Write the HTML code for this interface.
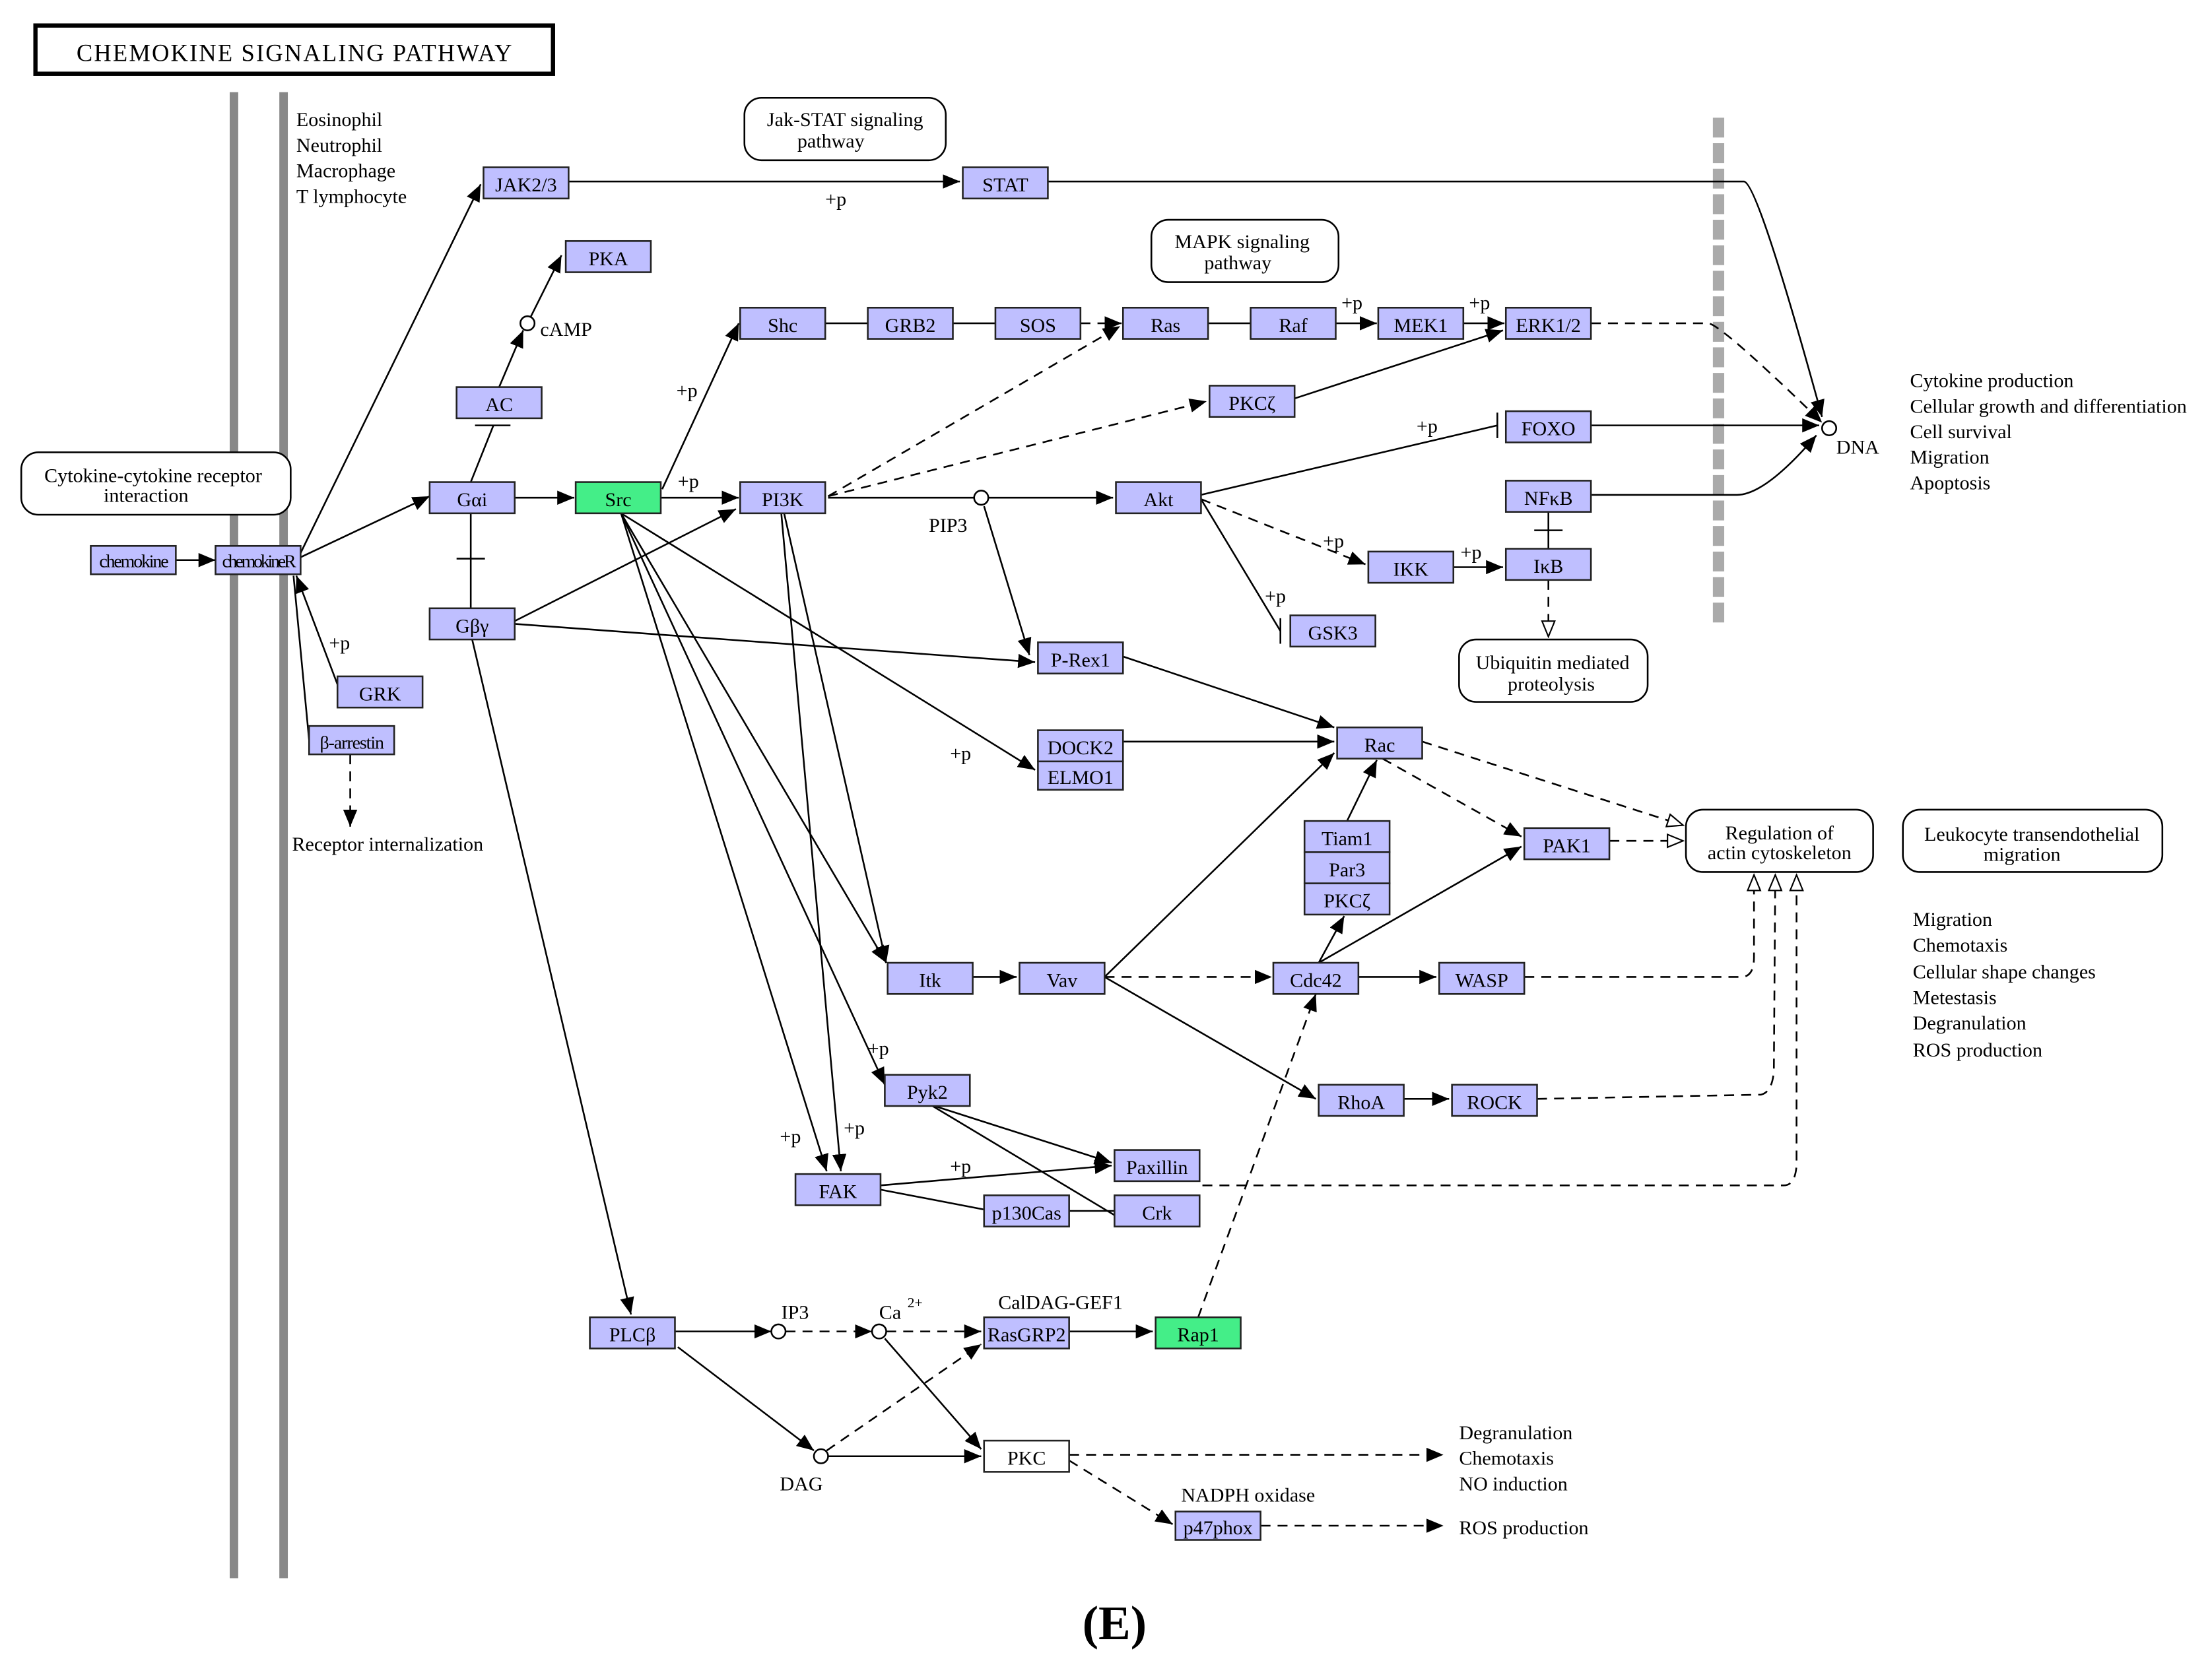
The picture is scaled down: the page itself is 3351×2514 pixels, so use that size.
<!DOCTYPE html>
<html><head><meta charset="utf-8"><style>
html,body{margin:0;padding:0;background:#fff;}
svg{display:block;}
text{font-family:"Liberation Serif",serif;font-size:14px;fill:#000;}
.b{fill:#bfbfff;stroke:#222;stroke-width:1.2;}
.g{fill:#44ee88;stroke:#222;stroke-width:1.2;}
.w{fill:#fff;stroke:#222;stroke-width:1.2;}
.r{fill:#fff;stroke:#000;stroke-width:1.2;}
.l{stroke:#000;stroke-width:1.2;fill:none;}
.d{stroke:#000;stroke-width:1.2;fill:none;stroke-dasharray:7,5;}
</style></head><body>
<svg width="3351" height="2514" viewBox="0 0 1560 1170" preserveAspectRatio="none" xmlns="http://www.w3.org/2000/svg">
<defs>
<marker id="a" markerUnits="userSpaceOnUse" markerWidth="12" markerHeight="10" refX="12" refY="5" orient="auto"><path d="M0,0 L12,5 L0,10 z" fill="#000"/></marker>
<marker id="o" markerUnits="userSpaceOnUse" markerWidth="13" markerHeight="11" refX="12" refY="5.5" orient="auto"><path d="M1,1 L12,5.5 L1,10 z" fill="#fff" stroke="#000"/></marker>
</defs>
<rect x="0" y="0" width="1560" height="1170" fill="#fff"/>
<rect x="25" y="18" width="365" height="34" fill="#fff" stroke="#000" stroke-width="3"/>
<text x="208" y="43" text-anchor="middle" style="font-size:17px;letter-spacing:1px">CHEMOKINE  SIGNALING  PATHWAY</text>
<rect x="162" y="65" width="6" height="1048" fill="#888"/>
<rect x="197" y="65" width="6" height="1048" fill="#888"/>
<line x1="1212" y1="83" x2="1212" y2="442" stroke="#aaa" stroke-width="8" stroke-dasharray="14,4"/>
<text x="209" y="89">Eosinophil</text><text x="209" y="107">Neutrophil</text><text x="209" y="125">Macrophage</text><text x="209" y="143">T lymphocyte</text>

<!-- edges -->
<g class="l">
<line x1="124" y1="395" x2="152" y2="395" marker-end="url(#a)"/>
<line x1="212" y1="390" x2="339" y2="130" marker-end="url(#a)"/>
<line x1="212" y1="393" x2="303" y2="350" marker-end="url(#a)"/>
<line x1="240" y1="488" x2="209" y2="406" marker-end="url(#a)"/>
<polyline points="207,406 218,522"/>
<line x1="332" y1="340" x2="348" y2="300"/><line x1="335" y1="300" x2="360" y2="300"/>
<line x1="352" y1="273" x2="369" y2="233" marker-end="url(#a)"/>
<line x1="374" y1="224" x2="396" y2="180" marker-end="url(#a)"/>
<line x1="363" y1="351" x2="405" y2="351" marker-end="url(#a)"/>
<line x1="332" y1="362" x2="332" y2="429"/><line x1="322" y1="394" x2="342" y2="394"/>
<line x1="466" y1="351" x2="521" y2="351" marker-end="url(#a)"/>
<line x1="467" y1="345" x2="521" y2="228" marker-end="url(#a)"/>
<line x1="363" y1="438" x2="519" y2="359" marker-end="url(#a)"/>
<line x1="363" y1="440" x2="730" y2="467" marker-end="url(#a)"/>
<line x1="333" y1="451" x2="445" y2="927" marker-end="url(#a)"/>
<line x1="438" y1="362" x2="730" y2="543" marker-end="url(#a)"/>
<line x1="438" y1="362" x2="625" y2="679" marker-end="url(#a)"/>
<line x1="438" y1="362" x2="624" y2="765" marker-end="url(#a)"/>
<line x1="438" y1="362" x2="583" y2="826" marker-end="url(#a)"/>
<line x1="553" y1="362" x2="625" y2="679" marker-end="url(#a)"/>
<line x1="551" y1="362" x2="593" y2="826" marker-end="url(#a)"/>
<line x1="582" y1="228" x2="612" y2="228"/><line x1="672" y1="228" x2="702" y2="228"/>
<line x1="852" y1="228" x2="882" y2="228"/>
<line x1="942" y1="228" x2="971" y2="228" marker-end="url(#a)"/>
<line x1="1032" y1="228" x2="1061" y2="228" marker-end="url(#a)"/>
<line x1="913" y1="281" x2="1060" y2="233" marker-end="url(#a)"/>
<line x1="584" y1="351" x2="687" y2="351"/>
<line x1="697" y1="351" x2="785" y2="351" marker-end="url(#a)"/>
<line x1="694" y1="357" x2="726" y2="462" marker-end="url(#a)"/>
<line x1="847" y1="349" x2="1056" y2="300"/><line x1="1056" y1="291" x2="1056" y2="309"/>
<line x1="847" y1="352" x2="903" y2="445"/><line x1="903" y1="436" x2="903" y2="454"/>
<line x1="1025" y1="400" x2="1060" y2="400" marker-end="url(#a)"/>
<line x1="1092" y1="361" x2="1092" y2="387"/><line x1="1082" y1="374" x2="1102" y2="374"/>
<line x1="1122" y1="300" x2="1283" y2="300" marker-end="url(#a)"/>
<path d="M1122,349 L1225,349 Q1245,349 1281,307" marker-end="url(#a)"/>
<path d="M739,128 L1230,128 Q1240,130 1285,294" marker-end="url(#a)"/>
<line x1="401" y1="128" x2="677" y2="128" marker-end="url(#a)"/>
<line x1="792" y1="463" x2="941" y2="513" marker-end="url(#a)"/>
<line x1="792" y1="523" x2="941" y2="523" marker-end="url(#a)"/>
<line x1="950" y1="579" x2="971" y2="536" marker-end="url(#a)"/>
<line x1="779" y1="689" x2="941" y2="531" marker-end="url(#a)"/>
<line x1="779" y1="689" x2="928" y2="775" marker-end="url(#a)"/>
<line x1="686" y1="689" x2="717" y2="689" marker-end="url(#a)"/>
<line x1="930" y1="679" x2="948" y2="646" marker-end="url(#a)"/>
<line x1="930" y1="679" x2="1073" y2="597" marker-end="url(#a)"/>
<line x1="958" y1="689" x2="1013" y2="689" marker-end="url(#a)"/>
<line x1="990" y1="775" x2="1022" y2="775" marker-end="url(#a)"/>
<line x1="656" y1="779" x2="784" y2="820" marker-end="url(#a)"/>
<line x1="656" y1="779" x2="786" y2="857"/>
<line x1="621" y1="836" x2="784" y2="822" marker-end="url(#a)"/>
<line x1="621" y1="839" x2="694" y2="853"/><line x1="754" y1="854" x2="786" y2="854"/>
<line x1="476" y1="939" x2="544" y2="939" marker-end="url(#a)"/>
<line x1="754" y1="939" x2="813" y2="939" marker-end="url(#a)"/>
<line x1="478" y1="950" x2="574" y2="1023" marker-end="url(#a)"/>
<line x1="584" y1="1027" x2="692" y2="1027" marker-end="url(#a)"/>
<line x1="624" y1="944" x2="692" y2="1022" marker-end="url(#a)"/>
</g>
<g class="d">
<line x1="247" y1="532" x2="247" y2="583" marker-end="url(#a)"/>
<line x1="762" y1="228" x2="791" y2="228" marker-end="url(#a)"/>
<path d="M1122,228 L1205,228 Q1215,230 1285,298" marker-end="url(#a)"/>
<line x1="584" y1="350" x2="790" y2="230" marker-end="url(#a)"/>
<line x1="584" y1="350" x2="851" y2="283" marker-end="url(#a)"/>
<line x1="847" y1="352" x2="963" y2="398" marker-end="url(#a)"/>
<line x1="1092" y1="409" x2="1092" y2="449" marker-end="url(#o)"/>
<line x1="1003" y1="523" x2="1187" y2="582" marker-end="url(#o)"/>
<line x1="975" y1="535" x2="1073" y2="590" marker-end="url(#a)"/>
<line x1="1135" y1="593" x2="1187" y2="593" marker-end="url(#o)"/>
<line x1="779" y1="689" x2="897" y2="689" marker-end="url(#a)"/>
<path d="M1075,689 L1228,689 Q1237,689 1237,675 L1237,617" marker-end="url(#o)"/>
<path d="M1084,775 L1242,772 Q1250,770 1251,755 L1252,617" marker-end="url(#o)"/>
<path d="M848,836 L1258,836 Q1266,836 1267,822 L1267,617" marker-end="url(#o)"/>
<line x1="554" y1="939" x2="615" y2="939" marker-end="url(#a)"/>
<line x1="625" y1="939" x2="692" y2="939" marker-end="url(#a)"/>
<line x1="845" y1="929" x2="928" y2="701" marker-end="url(#a)"/>
<line x1="583" y1="1023" x2="692" y2="948" marker-end="url(#a)"/>
<line x1="754" y1="1026" x2="1018" y2="1026" marker-end="url(#a)"/>
<line x1="754" y1="1030" x2="827" y2="1075" marker-end="url(#a)"/>
<line x1="889" y1="1076" x2="1018" y2="1076" marker-end="url(#a)"/>
</g>

<!-- circles -->
<g fill="#fff" stroke="#000" stroke-width="1.2">
<circle cx="372" cy="228" r="5"/><circle cx="692" cy="351" r="5"/><circle cx="1290" cy="302" r="5"/>
<circle cx="549" cy="939" r="5"/><circle cx="620" cy="939" r="5"/><circle cx="579" cy="1027" r="5"/>
</g>

<!-- rounded boxes -->
<g class="r">
<rect x="525" y="69" width="142" height="44" rx="12"/>
<rect x="812" y="155" width="132" height="44" rx="12"/>
<rect x="15" y="319" width="190" height="44" rx="12"/>
<rect x="1029" y="451" width="133" height="44" rx="12"/>
<rect x="1189" y="571" width="132" height="44" rx="12"/>
<rect x="1342" y="571" width="183" height="44" rx="12"/>
</g>
<g text-anchor="middle">
<text x="596" y="89">Jak-STAT signaling</text><text x="586" y="104">pathway</text>
<text x="876" y="175">MAPK signaling</text><text x="873" y="190">pathway</text>
<text x="108" y="340">Cytokine-cytokine receptor</text><text x="103" y="354">interaction</text>
<text x="1095" y="472">Ubiquitin mediated</text><text x="1094" y="487">proteolysis</text>
<text x="1255" y="592">Regulation of</text><text x="1255" y="606">actin cytoskeleton</text>
<text x="1433" y="593">Leukocyte transendothelial</text><text x="1426" y="607">migration</text>
</g>

<!-- gene boxes -->
<g>
<rect class="b" x="64" y="385" width="60" height="20"/>
<rect class="b" x="152" y="385" width="60" height="20"/>
<rect class="b" x="341" y="118" width="60" height="22"/>
<rect class="b" x="679" y="118" width="60" height="22"/>
<rect class="b" x="399" y="170" width="60" height="22"/>
<rect class="b" x="322" y="273" width="60" height="22"/>
<rect class="b" x="303" y="340" width="60" height="22"/>
<rect class="g" x="406" y="340" width="60" height="22"/>
<rect class="b" x="522" y="340" width="60" height="22"/>
<rect class="b" x="303" y="429" width="60" height="22"/>
<rect class="b" x="238" y="477" width="60" height="22"/>
<rect class="b" x="218" y="512" width="60" height="20"/>
<rect class="b" x="522" y="217" width="60" height="22"/>
<rect class="b" x="612" y="217" width="60" height="22"/>
<rect class="b" x="702" y="217" width="60" height="22"/>
<rect class="b" x="792" y="217" width="60" height="22"/>
<rect class="b" x="882" y="217" width="60" height="22"/>
<rect class="b" x="972" y="217" width="60" height="22"/>
<rect class="b" x="1062" y="217" width="60" height="22"/>
<rect class="b" x="853" y="272" width="60" height="22"/>
<rect class="b" x="1062" y="290" width="60" height="22"/>
<rect class="b" x="787" y="340" width="60" height="22"/>
<rect class="b" x="1062" y="339" width="60" height="22"/>
<rect class="b" x="965" y="389" width="60" height="22"/>
<rect class="b" x="1062" y="387" width="60" height="22"/>
<rect class="b" x="910" y="434" width="60" height="22"/>
<rect class="b" x="732" y="453" width="60" height="22"/>
<rect class="b" x="943" y="513" width="60" height="22"/>
<rect class="b" x="732" y="515" width="60" height="22"/>
<rect class="b" x="732" y="537" width="60" height="20"/>
<rect class="b" x="920" y="579" width="60" height="22"/>
<rect class="b" x="920" y="601" width="60" height="22"/>
<rect class="b" x="920" y="623" width="60" height="22"/>
<rect class="b" x="1075" y="584" width="60" height="22"/>
<rect class="b" x="626" y="679" width="60" height="22"/>
<rect class="b" x="719" y="679" width="60" height="22"/>
<rect class="b" x="898" y="679" width="60" height="22"/>
<rect class="b" x="1015" y="679" width="60" height="22"/>
<rect class="b" x="930" y="765" width="60" height="22"/>
<rect class="b" x="1024" y="765" width="60" height="22"/>
<rect class="b" x="624" y="758" width="60" height="22"/>
<rect class="b" x="786" y="811" width="60" height="22"/>
<rect class="b" x="561" y="828" width="60" height="22"/>
<rect class="b" x="694" y="843" width="60" height="22"/>
<rect class="b" x="786" y="843" width="60" height="22"/>
<rect class="b" x="416" y="929" width="60" height="22"/>
<rect class="b" x="694" y="929" width="60" height="22"/>
<rect class="g" x="815" y="929" width="60" height="22"/>
<rect class="w" x="694" y="1016" width="60" height="22"/>
<rect class="b" x="829" y="1066" width="60" height="20"/>
</g>
<g text-anchor="middle">
<text x="94" y="400" style="font-size:13px;letter-spacing:-1px">chemokine</text>
<text x="182" y="400" style="font-size:13px;letter-spacing:-1.5px">chemokineR</text>
<text x="371" y="135">JAK2/3</text><text x="709" y="135">STAT</text><text x="429" y="187">PKA</text>
<text x="352" y="290">AC</text><text x="333" y="357">Gαi</text><text x="436" y="357">Src</text><text x="552" y="357">PI3K</text>
<text x="333" y="446">Gβγ</text><text x="268" y="494">GRK</text><text x="248" y="528" style="font-size:13px;letter-spacing:-0.5px">β-arrestin</text>
<text x="552" y="234">Shc</text><text x="642" y="234">GRB2</text><text x="732" y="234">SOS</text><text x="822" y="234">Ras</text>
<text x="912" y="234">Raf</text><text x="1002" y="234">MEK1</text><text x="1092" y="234">ERK1/2</text>
<text x="883" y="289">PKCζ</text><text x="1092" y="307">FOXO</text><text x="817" y="357">Akt</text>
<text x="1092" y="356">NFκB</text><text x="995" y="406">IKK</text><text x="1092" y="404">IκB</text><text x="940" y="451">GSK3</text>
<text x="762" y="470">P-Rex1</text><text x="973" y="530">Rac</text><text x="762" y="532">DOCK2</text><text x="762" y="553">ELMO1</text>
<text x="950" y="596">Tiam1</text><text x="950" y="618">Par3</text><text x="950" y="640">PKCζ</text><text x="1105" y="601">PAK1</text>
<text x="656" y="696">Itk</text><text x="749" y="696">Vav</text><text x="928" y="696">Cdc42</text><text x="1045" y="696">WASP</text>
<text x="960" y="782">RhoA</text><text x="1054" y="782">ROCK</text><text x="654" y="775">Pyk2</text><text x="816" y="828">Paxillin</text>
<text x="591" y="845">FAK</text><text x="724" y="860">p130Cas</text><text x="816" y="860">Crk</text>
<text x="446" y="946">PLCβ</text><text x="724" y="946">RasGRP2</text><text x="845" y="946">Rap1</text>
<text x="724" y="1033">PKC</text><text x="859" y="1082">p47phox</text>
</g>

<!-- labels -->
<text x="381" y="237">cAMP</text>
<text x="232" y="458">+p</text><text x="582" y="145">+p</text><text x="477" y="280">+p</text><text x="478" y="344">+p</text>
<text x="946" y="218">+p</text><text x="1036" y="218">+p</text><text x="999" y="305">+p</text><text x="933" y="386">+p</text>
<text x="892" y="425">+p</text><text x="1030" y="394">+p</text><text x="670" y="536">+p</text><text x="612" y="744">+p</text>
<text x="550" y="806">+p</text><text x="595" y="800">+p</text><text x="670" y="827">+p</text>
<text x="655" y="375">PIP3</text><text x="1295" y="320">DNA</text>
<text x="206" y="600">Receptor internalization</text>
<text x="551" y="930">IP3</text><text x="620" y="930">Ca</text><text x="640" y="922" style="font-size:10px">2+</text>
<text x="550" y="1051">DAG</text>
<text x="704" y="923">CalDAG-GEF1</text><text x="833" y="1059">NADPH oxidase</text>
<text x="1347" y="273">Cytokine production</text><text x="1347" y="291">Cellular growth and differentiation</text>
<text x="1347" y="309">Cell survival</text><text x="1347" y="327">Migration</text><text x="1347" y="345">Apoptosis</text>
<text x="1349" y="653">Migration</text><text x="1349" y="671">Chemotaxis</text><text x="1349" y="690">Cellular shape changes</text>
<text x="1349" y="708">Metestasis</text><text x="1349" y="726">Degranulation</text><text x="1349" y="745">ROS production</text>
<text x="1029" y="1015">Degranulation</text><text x="1029" y="1033">Chemotaxis</text><text x="1029" y="1051">NO induction</text>
<text x="1029" y="1082">ROS production</text>
<text x="786" y="1156" text-anchor="middle" style="font-size:34px;font-weight:bold">(E)</text>
</svg>
</body></html>
